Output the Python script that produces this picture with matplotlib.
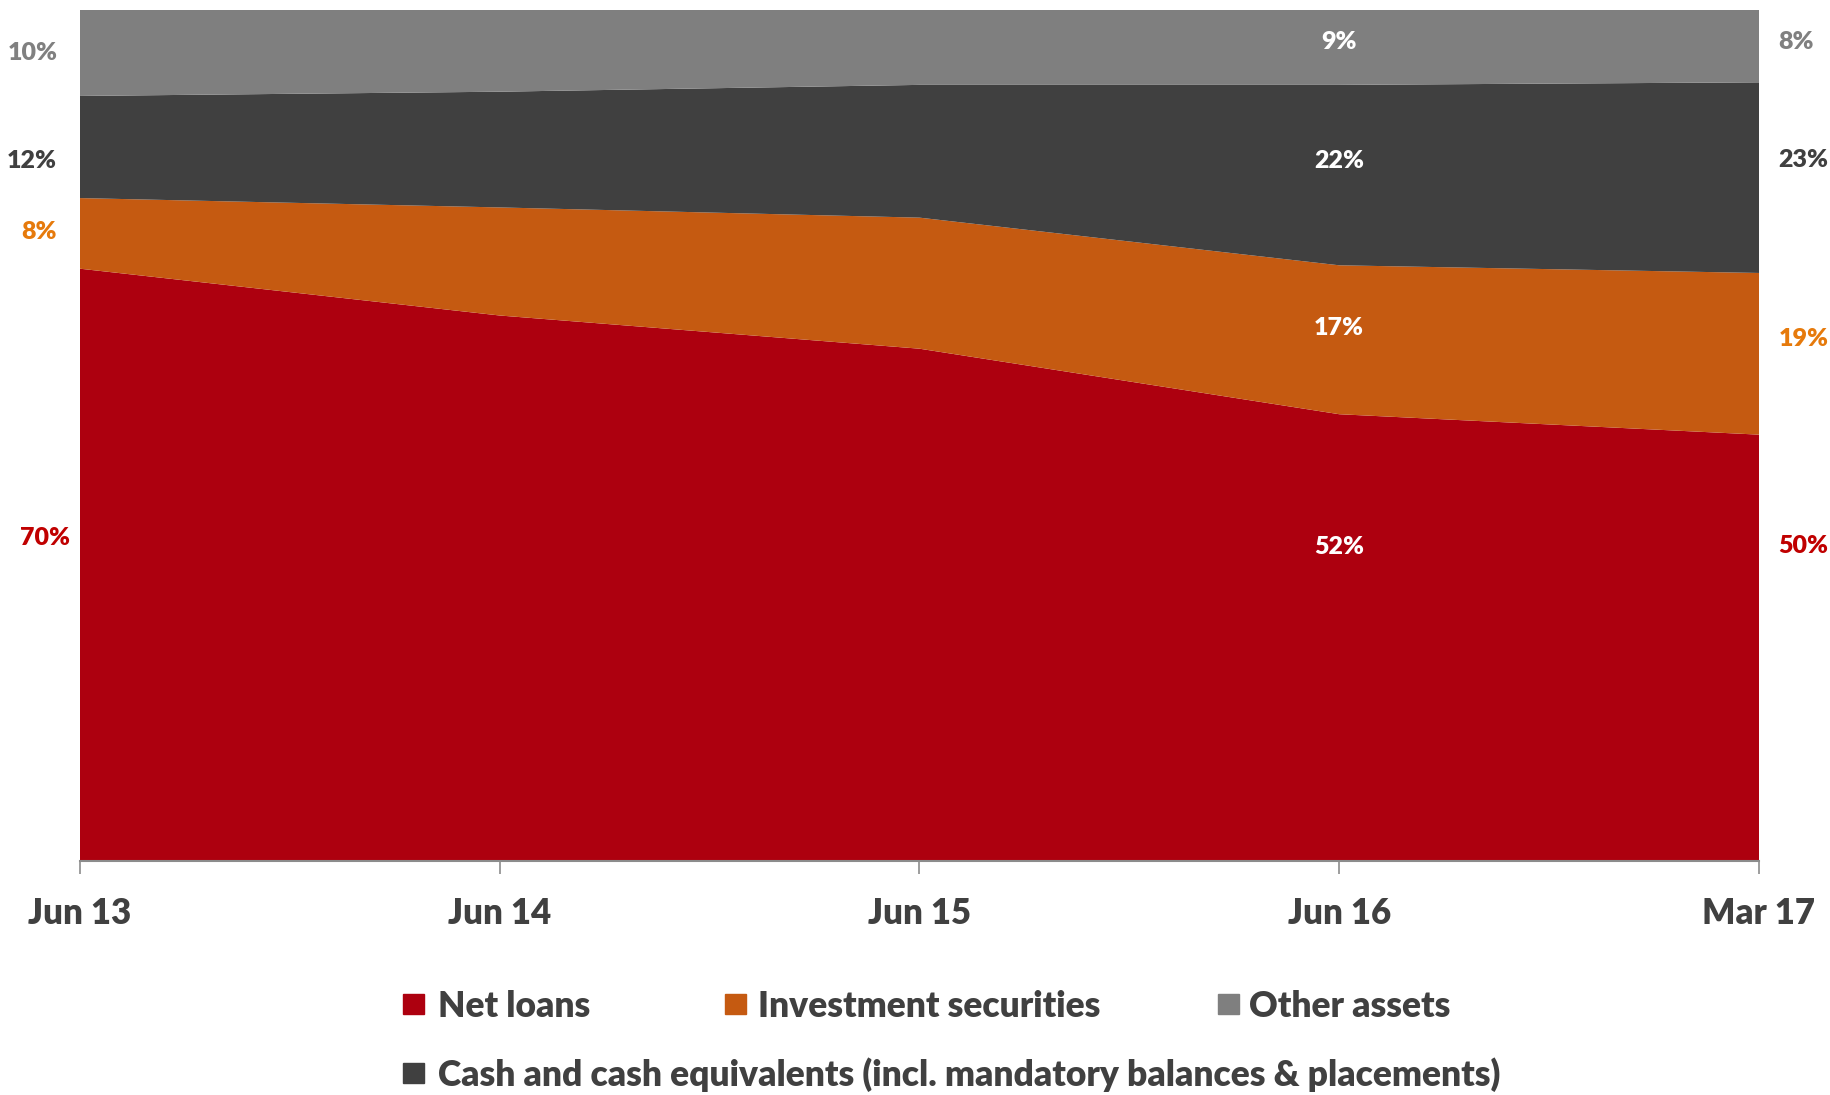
import matplotlib.pyplot as plt
from matplotlib.patches import Rectangle

plt.rcParams['font.family'] = ['Lato', 'DejaVu Sans']
plt.rcParams['font.weight'] = 'heavy'

periods = ['Jun 13', 'Jun 14', 'Jun 15', 'Jun 16', 'Mar 17']
net_loans = [69.6, 64.1, 60.2, 52.5, 50.1]
investment = [8.3, 12.7, 15.4, 17.5, 19.0]
cash = [12.0, 13.6, 15.6, 21.2, 22.4]
other = [10.1, 9.6, 8.8, 8.8, 8.5]

# percentages printed on the chart
left_labels = ['70%', '8%', '12%', '10%']
mid_labels = ['52%', '17%', '22%', '9%']
right_labels = ['50%', '19%', '23%', '8%']

series_names = ['Net loans', 'Investment securities',
                'Cash and cash equivalents (incl. mandatory balances & placements)',
                'Other assets']
fill_colors = ['#AD000F', '#C55A11', '#404040', '#7F7F7F']
text_colors = ['#C00000', '#E67A0C', '#404040', '#808080']

W, H = 1831, 1095
fig = plt.figure(figsize=(W / 100, H / 100), dpi=100)
ax = fig.add_axes([80 / W, 1 - 861 / H, (1759 - 80) / W, (861 - 10) / H])

x = list(range(len(periods)))
ax.stackplot(x, net_loans, investment, cash, other, colors=fill_colors, linewidth=0)
ax.set_xlim(0, len(periods) - 1)
ax.set_ylim(0, 100)

for s in ['top', 'left', 'right']:
    ax.spines[s].set_visible(False)
ax.spines['bottom'].set_color('#8C8C8C')
ax.spines['bottom'].set_linewidth(1.5)
ax.set_yticks([])
ax.set_xticks(x, periods)
ax.tick_params(axis='x', length=9, width=1.2, color='#8C8C8C', pad=17,
               labelsize=25, labelcolor='#404040')

# value labels: left column, Jun 16 column (inside), right column
left_y = [37.9, 73.9, 82.3, 95.0]
left_dx = [-7, -17, -17, -16]
mid_y = [36.9, 62.6, 82.3, 96.2]
right_y = [37.0, 61.3, 82.4, 96.2]
last = len(periods) - 1
for i in range(4):
    ax.annotate(left_labels[i], (0, left_y[i]), xytext=(left_dx[i], 0),
                textcoords='offset points', ha='right', va='center',
                fontsize=18, color=text_colors[i])
    ax.annotate(mid_labels[i], (3, mid_y[i]), ha='center', va='center',
                fontsize=18, color='white')
    ax.annotate(right_labels[i], (last, right_y[i]), xytext=(14, 0),
                textcoords='offset points', ha='left', va='center',
                fontsize=18, color=text_colors[i])

# legend, laid out like the original slide
legend_pos = [(403, 438, 1017), (725, 758, 1017), (403, 438, 1086), (1218, 1249, 1017)]
for i, (sx, tx, base) in enumerate(legend_pos):
    fig.add_artist(Rectangle((sx / W, 1 - (base - 3) / H), 21 / W, 20 / H,
                             transform=fig.transFigure, color=fill_colors[i]))
    fig.text(tx / W, 1 - base / H, series_names[i], ha='left', va='baseline',
             fontsize=25.5, color='#404040')

fig.savefig('out.png', dpi=100)
